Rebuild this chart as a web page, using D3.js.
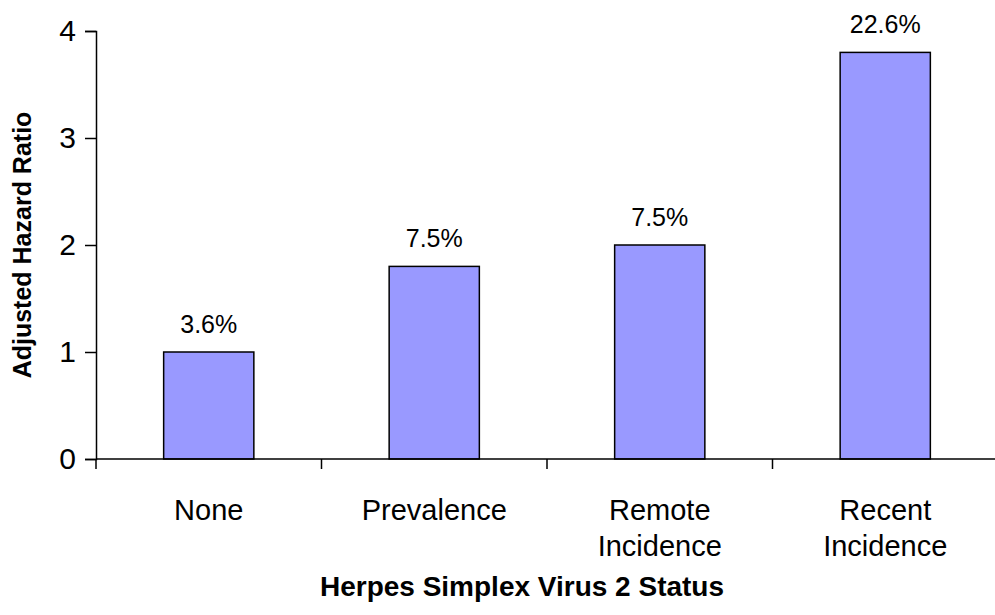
<!DOCTYPE html>
<html>
<head>
<meta charset="utf-8">
<script src="https://cdn.jsdelivr.net/npm/d3@7"></script>
<style>
  body { margin: 0; background: #fff; }
  svg { font-family: Arial, 'Liberation Sans', sans-serif; }
</style>
</head>
<body>
<svg class="canvas" width="995" height="615"></svg>
<script>
const categories = [['None'], ['Prevalence'], ['Remote', 'Incidence'], ['Recent', 'Incidence']],
  hazardRatios = [1.0, 1.8, 2.0, 3.8],
  pctLabels = ['3.6%', '7.5%', '7.5%', '22.6%'],
  yTicks = [0, 1, 2, 3, 4];

const svg = d3.select('.canvas'),
  margin = { left: 96, top: 31, bottom: 156 },
  plotBottom = 615 - margin.bottom,
  plotRight = 998;

const x = d3.scaleBand(d3.range(categories.length), [margin.left, plotRight])
    .paddingInner(0.6)
    .paddingOuter(0.3),
  y = d3.scaleLinear([0, 4], [plotBottom, margin.top]);

// y axis
const yAxis = svg.append('g')
  .attr('transform', `translate(${margin.left},0)`)
  .call(d3.axisLeft(y).tickValues(yTicks).tickSize(11).tickPadding(9).tickFormat(d3.format('d')));
yAxis.attr('font-family', null);
yAxis.select('.domain').attr('stroke', '#000').attr('stroke-width', 1.5);
yAxis.selectAll('.tick line').attr('stroke-width', 1.5);
yAxis.selectAll('.tick text').attr('font-size', 30).attr('fill', '#000');

// bars
svg.selectAll('.bar')
  .data(hazardRatios)
  .enter()
  .append('rect')
  .attr('class', 'bar')
  .attr('x', (d, i) => x(i))
  .attr('width', x.bandwidth())
  .attr('y', d => y(d))
  .attr('height', d => y(0) - y(d))
  .attr('fill', '#9999ff')
  .attr('stroke', '#000')
  .attr('stroke-width', 1.5);

// value labels
svg.selectAll('.val')
  .data(hazardRatios)
  .enter()
  .append('text')
  .attr('class', 'val')
  .attr('x', (d, i) => x(i) + x.bandwidth() / 2)
  .attr('y', d => y(d) - 19)
  .attr('text-anchor', 'middle')
  .attr('font-size', 25)
  .text((d, i) => pctLabels[i]);

// x axis with boundary ticks
const boundaries = d3.range(categories.length + 1)
  .map(i => margin.left + i * (plotRight - margin.left) / categories.length);
svg.append('line')
  .attr('x1', margin.left).attr('x2', plotRight)
  .attr('y1', plotBottom).attr('y2', plotBottom)
  .attr('stroke', '#000').attr('stroke-width', 1.5);
svg.selectAll('.xtick')
  .data(boundaries)
  .enter()
  .append('line')
  .attr('x1', d => d).attr('x2', d => d)
  .attr('y1', plotBottom).attr('y2', plotBottom + 10)
  .attr('stroke', '#000').attr('stroke-width', 1.5);

// category labels
const catText = svg.selectAll('.cat')
  .data(categories)
  .enter()
  .append('text')
  .attr('class', 'cat')
  .attr('text-anchor', 'middle')
  .attr('font-size', 29)
  .attr('transform', (d, i) => `translate(${x(i) + x.bandwidth() / 2},${plotBottom + 61})`);
catText.selectAll('tspan')
  .data(d => d)
  .enter()
  .append('tspan')
  .attr('x', 0)
  .attr('dy', (d, j) => j === 0 ? 0 : 36)
  .text(d => d);

// axis titles
svg.append('text')
  .attr('transform', `translate(31,${(margin.top + plotBottom) / 2}) rotate(-90)`)
  .attr('text-anchor', 'middle')
  .attr('font-size', 25)
  .attr('font-weight', 'bold')
  .text('Adjusted Hazard Ratio');

svg.append('text')
  .attr('x', 522)
  .attr('y', 596)
  .attr('text-anchor', 'middle')
  .attr('font-size', 28)
  .attr('font-weight', 'bold')
  .text('Herpes Simplex Virus 2 Status');
</script>
</body>
</html>
